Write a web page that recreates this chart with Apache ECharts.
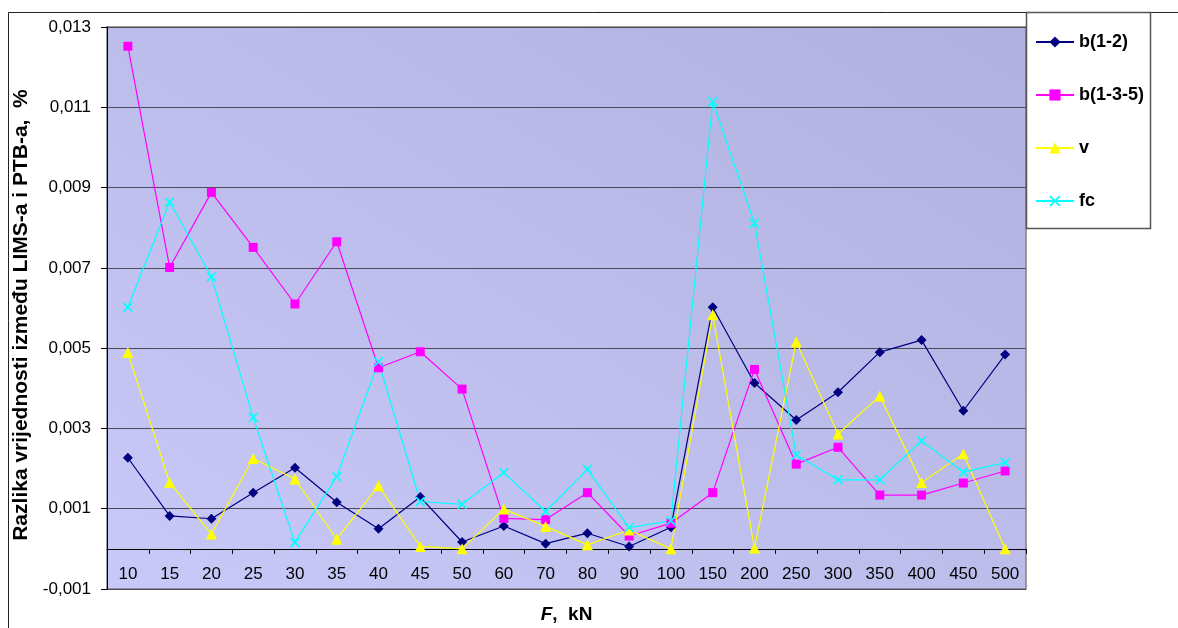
<!DOCTYPE html>
<html>
<head>
<meta charset="utf-8">
<script src="https://cdn.jsdelivr.net/npm/echarts@6/dist/echarts.min.js"></script>
<style>html,body{margin:0;padding:0;background:#fff;}#c{width:1178px;height:628px;}</style>
</head>
<body>
<div id="c"></div>
<script>
const categories = ['10','15','20','25','30','35','40','45','50','60','70','80','90','100','150','200','250','300','350','400','450','500'];
const b12  = [0.00227,0.00082,0.00075,0.00140,0.00202,0.00116,0.00050,0.00129,0.00017,0.00057,0.00013,0.00039,0.00006,0.00054,0.00602,0.00413,0.00321,0.00390,0.00490,0.00520,0.00344,0.00484];
const b135 = [0.01252,0.00701,0.00888,0.00751,0.00610,0.00765,0.00451,0.00491,0.00398,0.00076,0.00073,0.00140,0.00032,0.00064,0.00140,0.00447,0.00211,0.00253,0.00134,0.00134,0.00164,0.00194];
const v    = [0.00489,0.00165,0.00037,0.00225,0.00174,0.00024,0.00157,0.00006,0.00000,0.00099,0.00056,0.00010,0.00047,0.00000,0.00583,0.00002,0.00516,0.00286,0.00381,0.00165,0.00237,0.00000];
const fc   = [0.00602,0.00864,0.00678,0.00327,0.00016,0.00180,0.00466,0.00118,0.00111,0.00190,0.00093,0.00198,0.00053,0.00070,0.01114,0.00811,0.00234,0.00172,0.00172,0.00269,0.00191,0.00215];
const seriesNames = ['b(1-2)','b(1-3-5)','v','fc'];
const yTitle = 'Razlika vrijednosti između LIMS-a i PTB-a,  %';

const FONT = 'Liberation Sans, Arial, sans-serif';
const xPath = 'path://M0,1.2L1.2,0L5,3.8L8.8,0L10,1.2L6.2,5L10,8.8L8.8,10L5,6.2L1.2,10L0,8.8L3.8,5Z';

const chart = echarts.init(document.getElementById('c'), null, {renderer:'canvas'});
function mk(name, data, color, symbol, size) {
  return {
    name, type:'line', data, symbol, symbolSize:size, xAxisIndex:0,
    lineStyle:{color, width:1.2},
    itemStyle:{color},
    emphasis:{disabled:true},
    animation:false
  };
}
chart.setOption({
  animation:false,
  textStyle:{fontFamily:FONT},
  graphic:[
    {type:'rect', shape:{x:8.5,y:12.5,width:1300,height:700}, style:{fill:'none', stroke:'#222', lineWidth:1}, z:0},
    {type:'rect', shape:{x:1026.5,y:12.5,width:124,height:216}, style:{fill:'#fff', stroke:'#555', lineWidth:1.5}, z:1}
  ],
  grid:{left:107, top:27, width:919, height:562, show:true, outerBoundsMode:'none', containLabel:false,
    backgroundColor:new echarts.graphic.LinearGradient(107,589,607,-229,[{offset:0,color:'#c8c9f8'},{offset:1,color:'#b0b1de'}], true),
    borderColor:'#808080', borderWidth:1.5},
  legend:{
    orient:'vertical', left:1035, top:33, padding:0, itemWidth:38, itemHeight:14, itemGap:35,
    data:seriesNames,
    textStyle:{fontFamily:FONT, fontSize:18, fontWeight:'bold', color:'#000'}
  },
  xAxis:[{
    type:'category', data:categories, boundaryGap:true,
    axisLine:{onZero:true, lineStyle:{color:'#000', width:1}},
    axisTick:{show:true, length:5, lineStyle:{color:'#000'}},
    axisLabel:{show:false},
    splitLine:{show:false}
  },{
    type:'category', data:categories, boundaryGap:true, position:'bottom',
    axisLine:{show:false, onZero:false},
    axisTick:{show:false},
    axisLabel:{fontFamily:FONT, fontSize:17, color:'#000', inside:true, margin:6, interval:0},
    splitLine:{show:false},
    name:'{i|F}{b|,  kN}', nameLocation:'middle', nameGap:16,
    nameTextStyle:{rich:{
      i:{fontFamily:FONT, fontSize:19, fontWeight:'bold', fontStyle:'italic', color:'#000'},
      b:{fontFamily:FONT, fontSize:19, fontWeight:'bold', color:'#000'}
    }}
  }],
  yAxis:{
    type:'value', min:-0.001, max:0.013, interval:0.002,
    axisLine:{show:true, lineStyle:{color:'#000', width:1}},
    axisTick:{show:true, length:6, lineStyle:{color:'#000'}},
    axisLabel:{fontFamily:FONT, fontSize:17, color:'#000', margin:16,
      formatter:function(val){return val.toFixed(3).replace('.',',');}},
    splitLine:{show:true, lineStyle:{color:'#4a4a5a', width:1.2}},
    name:yTitle, nameLocation:'middle', nameGap:69,
    nameTextStyle:{fontFamily:FONT, fontSize:21, fontWeight:'bold', color:'#000', padding:[0,14,0,0]}
  },
  series:[
    mk(seriesNames[0], b12, '#000080', 'diamond', 10),
    mk(seriesNames[1], b135, '#ff00ff', 'rect', 9),
    mk(seriesNames[2], v, '#ffff00', 'triangle', 11),
    mk(seriesNames[3], fc, '#00ffff', xPath, 10)
  ]
});
</script>
</body>
</html>
